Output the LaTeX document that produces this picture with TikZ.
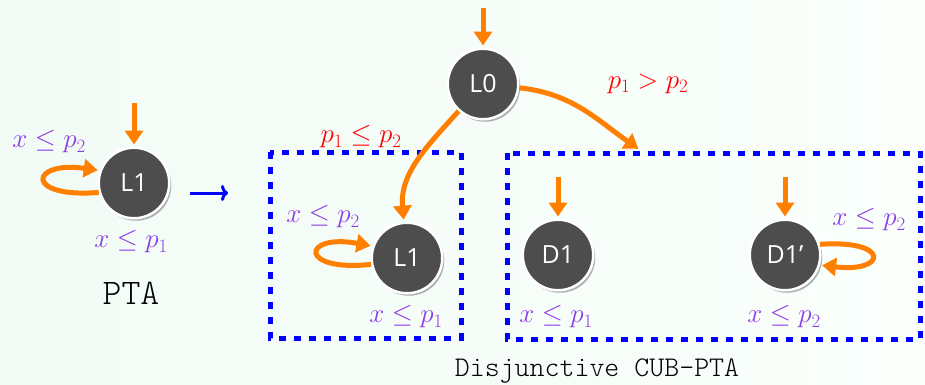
\RequirePackage{fix-cm}
\documentclass[tikz,border=0pt]{standalone}
\usepackage[no-math]{fontspec}
\newfontfamily\nodefont{Open Sans}
\newfontfamily\lighttt{lmmonolt10-regular.otf}
\usetikzlibrary{arrows.meta,shadows}
\definecolor{lorange}{RGB}{255,128,0}
\definecolor{lpurple}{RGB}{139,61,230}
\definecolor{bgl}{RGB}{242,251,245}
\definecolor{bgr}{RGB}{250,255,252}
\definecolor{nodegray}{RGB}{77,77,77}
\begin{document}
\begin{tikzpicture}[x=1pt,y=1pt,
 loc/.style={circle, fill=nodegray, draw=white, line width=2.5pt, minimum size=70.5pt, inner sep=0pt, text=white, font=\nodefont\fontsize{25}{29}\selectfont, drop shadow={shadow xshift=2pt, shadow yshift=-2.5pt, fill=black, opacity=0.3}},
 trans/.style={draw=lorange, line width=5pt, -{Triangle[length=14pt,width=18pt]}, shorten >=2pt},
 grd/.style={text=lpurple, font=\fontsize{27}{31}\selectfont, inner sep=0pt},
 cnd/.style={text=red, font=\fontsize{27}{31}\selectfont, inner sep=0pt},
 grp/.style={draw=blue, line width=5pt, dash pattern=on 7pt off 8pt},
 captxt/.style={font=\lighttt\fontsize{28.5}{32}\selectfont, inner sep=0pt}
]
\shade[left color=bgl, right color=bgr] (0,0) rectangle (925,384);
\useasboundingbox (0,0) rectangle (925,384);
% groups
\draw[grp] (270,232) rectangle (461,46);
\draw[grp] (507,231) rectangle (920,45);
% locations
\node[loc] (A) at (134,201) {L1};
\node[loc] (L0) at (483,300) {L0};
\node[loc] (B) at (407,126) {L1};
\node[loc] (D1) at (558,129) {D1};
\node[loc] (D2) at (785,129) {D1’};
% initial arrows
\coordinate (iA) at (134,281);
\coordinate (i0) at (483,376);
\coordinate (iD1) at (558,207);
\coordinate (iD2) at (785,207);
\draw[trans] (iA) -- (A);
\draw[trans] (i0) -- (L0);
\draw[trans] (iD1) -- (D1);
\draw[trans] (iD2) -- (D2);
% transitions
\coordinate (rb) at (640,234);
\draw[trans] (L0) to[out=228,in=95] (B);
\draw[trans] (L0) to[out=-6,in=145] (rb);
% self loops
\draw[trans] (A.195) .. controls +(-75,-6) and +(-70,10) .. (A.160);
\draw[trans] (B.190) .. controls +(-73,-8) and +(-71,13) .. (B.161);
\draw[trans] (D2.17) .. controls +(71,5) and +(67,-8) .. (D2.-16);
% blue arrow
\coordinate (ba) at (190,191);
\coordinate (bb) at (228,191);
\draw[blue, line width=3pt, -{Computer Modern Rightarrow[length=7pt,width=16pt]}] (ba) -- (bb);
% labels
\node[grd] (gA2) at (49,242) {$x \le p_2$};
\node[grd] (gA1) at (131,142) {$x \le p_1$};
\node[captxt, font=\lighttt\fontsize{36}{40}\selectfont] (tA) at (131,91) {PTA};
\node[cnd] (c1) at (361,247) {$p_1 \le p_2$};
\node[cnd] (c2) at (648,300) {$p_1 > p_2$};
\node[grd] (gB2) at (323,167) {$x \le p_2$};
\node[grd] (gB1) at (406,67) {$x \le p_1$};
\node[grd] (gD1) at (556,67) {$x \le p_1$};
\node[grd] (gD2) at (784,67) {$x \le p_2$};
\node[grd] (gD2b) at (869,164) {$x \le p_2$};
\node[captxt] (tB) at (597,13) {Disjunctive CUB-PTA};
\end{tikzpicture}
\end{document}
